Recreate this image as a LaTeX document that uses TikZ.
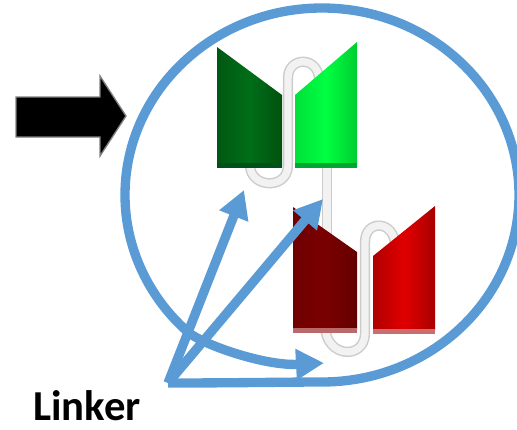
\documentclass[tikz,border=0pt]{standalone}
\usepackage{fontspec}
\setmainfont{Carlito}
\usetikzlibrary{arrows.meta}
\definecolor{ringblue}{RGB}{91,155,213}

\begin{document}
\begin{tikzpicture}[x=0.75pt,y=0.75pt,yscale=-1,xscale=1,
  tube/.style={draw=black!20, line width=1.1, double=white!95!black, double distance=5.5},
  ring/.style={draw=ringblue, line width=7},
  blue arrow/.style={ring, -{Triangle[length=21pt,width=22pt]}}]
\useasboundingbox (0,0) rectangle (517,429);
%linkers, drawn behind the domains
\draw [tube] (250,166) .. controls (251,188) and (287,190) .. (288,166) -- (288,78) .. controls (288,56) and (319,56) .. (319,80) ;
\draw [tube] (327,160) -- (327,236) ;
\draw [tube] (325,326) .. controls (326,358) and (364,360) .. (365,334) -- (365,242) .. controls (365,219) and (395,220) .. (395,246) ;
%green domain
\shade [left color={rgb, 255:red, 0; green, 88; blue, 18}, right color={rgb, 255:red, 0; green, 82; blue, 14}, middle color={rgb, 255:red, 0; green, 110; blue, 25}] (217,47) -- (282,95) -- (282,167) -- (217,167) -- cycle ;
\fill [color={rgb, 255:red, 0; green, 80; blue, 25}] (217,163) rectangle (282,168) ;
\shade [left color={rgb, 255:red, 0; green, 225; blue, 58}, right color={rgb, 255:red, 0; green, 205; blue, 50}, middle color={rgb, 255:red, 0; green, 255; blue, 65}] (295,95) -- (357,42) -- (357,167) -- (295,167) -- cycle ;
\fill [color={rgb, 255:red, 0; green, 165; blue, 50}] (295,163) rectangle (357,168) ;
%red domain
\shade [left color={rgb, 255:red, 112; green, 0; blue, 0}, right color={rgb, 255:red, 100; green, 0; blue, 0}, middle color={rgb, 255:red, 122; green, 0; blue, 0}] (293,207) -- (357,252) -- (357,329) -- (293,329) -- cycle ;
\fill [color={rgb, 255:red, 185; green, 105; blue, 105}] (293,328) rectangle (357,333) ;
\shade [left color={rgb, 255:red, 175; green, 0; blue, 0}, right color={rgb, 255:red, 168; green, 0; blue, 0}, middle color={rgb, 255:red, 225; green, 0; blue, 0}] (373,256) -- (435,206) -- (435,330) -- (373,330) -- cycle ;
\fill [color={rgb, 255:red, 200; green, 110; blue, 110}] (373,329) rectangle (435,334) ;
%pointers
\coordinate (fan) at (168,383);
\coordinate (lkA) at (244,190);
\coordinate (lkB) at (323,199);
\coordinate (lkC) at (324,363);
\draw [blue arrow] (fan) .. controls (230,383) and (290,382) .. (322,382) arc [start angle=90, end angle=-227, x radius=197, y radius=187] .. controls (203,345) and (265,366) .. (lkC) ;
\draw [blue arrow] (fan) -- (lkA) ;
\draw [blue arrow] (fan) -- (lkB) ;
%black arrow
\draw [fill=black, draw={rgb, 255:red, 128; green, 128; blue, 128}, line width=1] (16,97) -- (100,97) -- (100,76) -- (126,116) -- (100,156) -- (100,137) -- (16,137) -- cycle ;
\node [anchor=base west, inner sep=0, font=\bfseries\fontsize{32}{32}\selectfont] (linker) at (33,420) {Linker};
\end{tikzpicture}
\end{document}
